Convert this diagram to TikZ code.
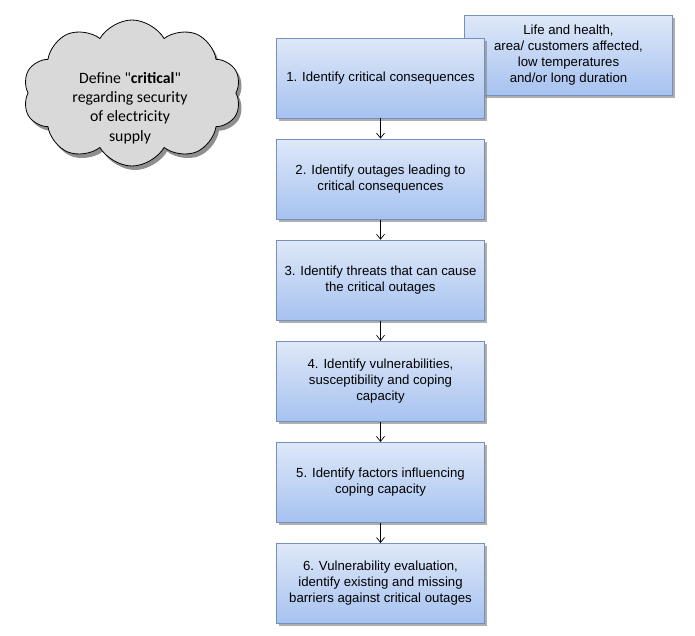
\documentclass[tikz,border=0pt]{standalone}
\usepackage{fontspec}
\setmainfont{Liberation Sans}
\newfontfamily\cloudfont{Carlito}
\usetikzlibrary{positioning,shapes.symbols,shadows,arrows.meta}

\definecolor{boxtop}{HTML}{DEE8F8}
\definecolor{boxbot}{HTML}{A6C2F0}
\definecolor{boxline}{HTML}{7590BD}
\definecolor{cloudgray}{HTML}{D9D9D9}

\tikzset{
  stepbox/.style={draw=boxline, line width=0.9pt, top color=boxtop, bottom color=boxbot,
    minimum width=208pt, minimum height=80pt, align=center, inner sep=3pt,
    font=\fontsize{13.2}{16}\selectfont,
    drop shadow={shadow xshift=2pt, shadow yshift=-2.5pt, fill=black!45, opacity=.7}},
  flow/.style={-{Straight Barb[length=5pt,width=8pt]}, line width=0.7pt}
}

\begin{document}
\begin{tikzpicture}[x=1pt,y=-1pt, node distance=20.2pt]
  \useasboundingbox (0,0) rectangle (695,635);

  % Cloud
  \node[cloud, cloud puffs=10, cloud puff arc=120, aspect=1.55, draw, line width=0.8pt, fill=cloudgray,
        minimum width=218pt, minimum height=146pt, inner sep=0pt,
        drop shadow={shadow xshift=3pt, shadow yshift=-4pt, fill=black!55, opacity=.8}]
        (crit) at (132,93) {};
  \node[align=center, font=\cloudfont\fontsize{15.8}{19.4}\selectfont] (crittxt) at (130,108)
        {Define "\textbf{critical}"\\regarding security\\of electricity\\supply};

  % Side box
  \node[stepbox] (side) at (568.5,55.5)
        {Life and health,\\area/ customers affected,\\low temperatures\\and/or long duration};

  % Steps
  \node[stepbox] (s1) at (380.5,78) {1. Identify critical consequences};
  \node[stepbox, below=of s1] (s2) {2. Identify outages leading to\\critical consequences};
  \node[stepbox, below=of s2] (s3) {3. Identify threats that can cause\\the critical outages};
  \node[stepbox, below=of s3] (s4) {4. Identify vulnerabilities,\\susceptibility and coping\\capacity};
  \node[stepbox, below=of s4] (s5) {5. Identify factors influencing\\coping capacity};
  \node[stepbox, below=of s5] (s6) {6. Vulnerability evaluation,\\identify existing and missing\\barriers against critical outages};

  % Arrows
  \foreach \a/\b in {s1/s2,s2/s3,s3/s4,s4/s5,s5/s6}
    \draw[flow] (\a) -- (\b);
\end{tikzpicture}
\end{document}
